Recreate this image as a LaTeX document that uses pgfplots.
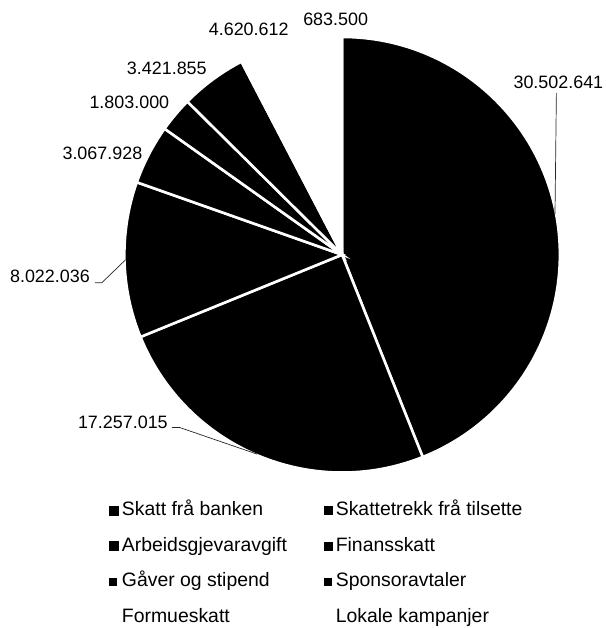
\documentclass[border=0pt]{standalone}
\usepackage{fontspec}
\setmainfont{Liberation Sans}
\usepackage{pgfplots}
\usepackage{pgfplotstable}
\pgfplotsset{compat=1.18}

% slice values (clockwise from 12 o'clock), label centre in pixel coords, colour
\pgfplotstableread[col sep=comma]{
value,lx,ly,colour
30502641,559,82,black
17257015,123,423,black
8022036,50,277,black
3067928,102.5,153,black
1803000,129.5,102,black
3421855,167,68,black
4620612,249,29,white
683500,336,19,white
}\piedata

\begin{document}
\begin{tikzpicture}
\begin{axis}[
  width=606bp, height=628bp, scale only axis,
  xmin=0, xmax=606, ymin=0, ymax=628, y dir=reverse,
  hide axis, clip=false,
  legend columns=2,
  legend cell align=left,
  legend style={draw=none, fill=none, at={(axis cs:106,500)}, anchor=north west,
    font=\fontsize{19.5}{23}\selectfont, row sep=17.5bp,
    nodes={inner sep=0pt, text height=14bp, text depth=4bp},
    /tikz/every odd column/.append style={column sep=3.5bp},
    /tikz/every even column/.append style={column sep=37bp}},
]
\addlegendimage{legend image code/.code={\fill[black] (0bp,-4.5bp) rectangle (9bp,4.5bp);}}
\addlegendentry{Skatt frå banken}
\addlegendimage{legend image code/.code={\fill[black] (0bp,-4bp) rectangle (8bp,4bp);}}
\addlegendentry{Skattetrekk frå tilsette}
\addlegendimage{legend image code/.code={\fill[black] (0bp,-4.5bp) rectangle (9bp,4.5bp);}}
\addlegendentry{Arbeidsgjevaravgift}
\addlegendimage{legend image code/.code={\fill[black] (0bp,-4bp) rectangle (8bp,4bp);}}
\addlegendentry{Finansskatt}
\addlegendimage{legend image code/.code={\fill[black] (0bp,-3.5bp) rectangle (7bp,3.5bp);}}
\addlegendentry{Gåver og stipend}
\addlegendimage{legend image code/.code={\fill[black] (0bp,-3.5bp) rectangle (7bp,3.5bp);}}
\addlegendentry{Sponsoravtaler}
\addlegendimage{legend image code/.code={\fill[white] (0bp,-4bp) rectangle (8bp,4bp);}}
\addlegendentry{Formueskatt}
\addlegendimage{legend image code/.code={\fill[white] (0bp,-4bp) rectangle (8bp,4bp);}}
\addlegendentry{Lokale kampanjer}

\pgfplotsextra{%
  \path (axis cs:0,0) rectangle (axis cs:606,628);
  % --- angles from the data (fpu for the large numbers)
  \pgfkeys{/pgf/fpu=true,/pgf/fpu/output format=fixed}%
  \gdef\pietotal{0}%
  \foreach \i in {0,1,2,3,4,5,6,7}{%
    \pgfplotstablegetelem{\i}{value}\of\piedata
    \pgfmathparse{\pietotal+\pgfplotsretval}%
    \xdef\pietotal{\pgfmathresult}}%
  \gdef\piecum{0}%
  \foreach \i in {0,1,2,3,4,5,6,7}{%
    \pgfplotstablegetelem{\i}{value}\of\piedata
    \let\v\pgfplotsretval
    \pgfmathparse{90-360*\piecum/\pietotal}%
    \expandafter\xdef\csname pieA\i\endcsname{\pgfmathresult}%
    \pgfmathparse{90-360*(\piecum+\v)/\pietotal}%
    \expandafter\xdef\csname pieB\i\endcsname{\pgfmathresult}%
    \pgfmathparse{90-360*(\piecum+0.5*\v)/\pietotal}%
    \expandafter\xdef\csname pieM\i\endcsname{\pgfmathresult}%
    \pgfmathparse{\piecum+\v}%
    \xdef\piecum{\pgfmathresult}}%
  \pgfkeys{/pgf/fpu=false}%
  % --- slices
  \foreach \i in {0,1,2,3,4,5,6,7}{%
    \pgfplotstablegetelem{\i}{colour}\of\piedata
    \let\col\pgfplotsretval
    \edef\a{\csname pieA\i\endcsname}\edef\b{\csname pieB\i\endcsname}%
    \filldraw[fill=\col, draw=white, line width=2.6bp]
      (axis cs:342.5,255) -- ++(\a:218bp) arc[start angle=\a, end angle=\b, radius=218bp] -- cycle;
  }%
  % --- data labels
  \foreach \i in {0,1,2,3,4,5,6,7}{%
    \pgfplotstablegetelem{\i}{lx}\of\piedata \let\lx\pgfplotsretval
    \pgfplotstablegetelem{\i}{ly}\of\piedata \let\ly\pgfplotsretval
    \pgfplotstablegetelem{\i}{value}\of\piedata \let\v\pgfplotsretval
    \node[inner sep=0pt, font=\fontsize{18}{21}\selectfont] at (axis cs:\lx,\ly)
      {\pgfmathprintnumber[fixed, precision=0, 1000 sep={.}, assume math mode=true]{\v}};
  }%
  % --- leader lines (pie end at the slice's mid angle)
  \edef\ma{\csname pieM0\endcsname}\edef\mb{\csname pieM1\endcsname}\edef\mc{\csname pieM2\endcsname}%
  \draw[line width=0.7bp, black!85] (axis cs:342.5,255) ++(\ma:217bp) -- (axis cs:557,93);
  \draw[line width=0.7bp, black!85] (axis cs:342.5,255) ++(\mb:217bp) -- (axis cs:180,428) -- (axis cs:172,428);
  \draw[line width=0.7bp, black!85] (axis cs:342.5,255) ++(\mc:217bp) -- (axis cs:102,283) -- (axis cs:95,283);
}
\end{axis}
\end{tikzpicture}
\end{document}
